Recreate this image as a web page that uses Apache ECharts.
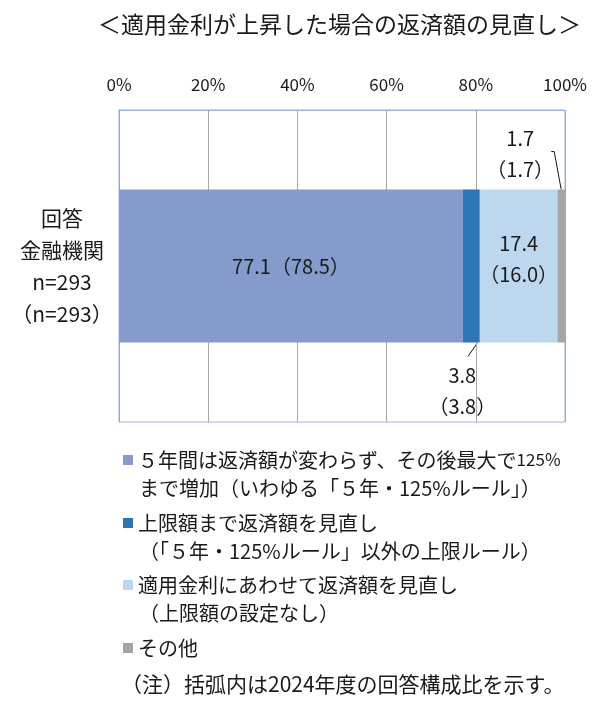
<!DOCTYPE html>
<html><head><meta charset="utf-8">
<script src="https://cdn.jsdelivr.net/npm/echarts@6/dist/echarts.min.js"></script>
<style>html,body{margin:0;padding:0;background:#fff}#c{width:600px;height:703px}</style>
</head><body><div id="c"></div>
<script>
const titleText = '＜適用金利が上昇した場合の返済額の見直し＞';
const categories = ['回答\n金融機関\nn=293\n（n=293）'];
const seriesNames = [
  '５年間は返済額が変わらず、その後最大で125%\nまで増加（いわゆる「５年・125%ルール」）',
  '上限額まで返済額を見直し\n（「５年・125%ルール」以外の上限ルール）',
  '適用金利にあわせて返済額を見直し\n（上限額の設定なし）',
  'その他'
];
const values2025 = [77.1, 3.8, 17.4, 1.7];
const values2024 = [78.5, 3.8, 16.0, 1.7];
const tickValues = [0, 20, 40, 60, 80, 100];
const note = '（注）括弧内は2024年度の回答構成比を示す。';

const colors = ['#849BCB', '#2E75B6', '#BDD7EE', '#A5A5A8'];
const FONT = '"Noto Sans CJK JP", "Noto Sans", sans-serif';
const chart = echarts.init(document.getElementById('c'), null, {renderer: 'canvas'});

const labelCfg = [
  {show: true, position: 'inside', fontSize: 20, color: '#1a1a1a', fontFamily: FONT,
   formatter: p => p.value + '（' + values2024[0].toFixed(1) + '）'},
  {show: true, position: 'bottom', distance: 17, offset: [-9, 0], fontSize: 20, lineHeight: 31, color: '#1a1a1a', fontFamily: FONT,
   formatter: p => p.value.toFixed(1) + '\n（' + values2024[1].toFixed(1) + '）'},
  {show: true, position: 'inside', offset: [0, -7], fontSize: 20, lineHeight: 31, color: '#1a1a1a', fontFamily: FONT,
   formatter: p => p.value.toFixed(1) + '\n（' + values2024[2].toFixed(1) + '）'},
  {show: true, position: 'top', distance: 5, offset: [-41, 0], fontSize: 20, lineHeight: 31, color: '#1a1a1a', fontFamily: FONT,
   formatter: p => p.value.toFixed(1) + '\n（' + values2024[3].toFixed(1) + '）'}
];

const series = seriesNames.map((n, i) => ({
  name: n, type: 'bar', stack: 'total', barWidth: '49%',
  itemStyle: {color: colors[i]},
  label: labelCfg[i],
  data: [values2025[i]]
}));

const legendTops = [460, 523, 585, 648];
const legends = seriesNames.map((n, i) => ({
  data: [n], left: 123, top: legendTops[i] - 12, padding: 0,
  icon: 'rect', itemWidth: 10, itemHeight: 10, selectedMode: false,
  formatter: name => {
    const first = name.split('\n')[0];
    return first.replace('125%', '{s|125%}');
  },
  textStyle: {fontSize: 20, lineHeight: 24, color: '#1a1a1a', fontFamily: FONT,
    rich: {s: {fontSize: 17, fontFamily: FONT, color: '#1a1a1a'}}}
}));

const secondLines = [];
seriesNames.forEach((n, i) => {
  const parts = n.split('\n');
  if (parts.length > 1) {
    secondLines.push({type: 'text', left: 139, top: legendTops[i] + 28 - 12,
      style: {text: parts[1], fontSize: 20, lineHeight: 24, fill: '#1a1a1a', fontFamily: FONT}});
  }
});
const noteGraphic = {type: 'text', left: 121, top: 674, style: {text: note, fontSize: 21, fill: '#1a1a1a', fontFamily: FONT}};

chart.setOption({
  animation: false,
  title: {text: titleText, left: 93, top: 8, textStyle: {fontSize: 23, fontWeight: 'normal', color: '#1a1a1a', fontFamily: FONT}},
  grid: {left: 119, right: 35, top: 110, bottom: 281, show: true, borderColor: '#9FB8D8', borderWidth: 1},
  xAxis: {type: 'value', position: 'top', min: tickValues[0], max: tickValues[tickValues.length - 1], interval: 20,
    axisLine: {show: true, lineStyle: {color: '#95B3D7'}}, axisTick: {show: false},
    axisLabel: {formatter: '{value}%', fontSize: 17, color: '#1a1a1a', margin: 17, fontFamily: FONT},
    splitLine: {show: true, lineStyle: {color: '#A6A6A6'}}},
  yAxis: {type: 'category', data: categories, inverse: true,
    axisLine: {show: true, lineStyle: {color: '#A6A6A6'}}, axisTick: {show: false},
    axisLabel: {align: 'center', margin: 57, fontSize: 21, lineHeight: 32, color: '#1a1a1a', fontFamily: FONT}},
  legend: legends,
  series: series,
  graphic: secondLines.concat([noteGraphic])
});

// leader lines computed from the library's own scale
function px(x, y) { return chart.convertToPixel({gridIndex: 0}, [x, y]); }
const cum1 = values2025[0];
const total = values2025.reduce((a, b) => a + b, 0);
const c0 = px(0, 0);
const bandH = 312 * 0.49 / 2;
const b2 = px(cum1 + values2025[1] / 2 + 1.5, 0);
const b4 = px(total - values2025[3] / 2, 0);
const extra = [
  {type: 'polyline', shape: {points: [[b2[0] - 1, c0[1] + bandH + 1], [b2[0] - 10, c0[1] + bandH + 14]]},
   style: {stroke: '#1a1a1a', lineWidth: 1, fill: null}},
  {type: 'polyline', shape: {points: [[b4[0] - 10, c0[1] - bandH - 38], [b4[0] - 7, c0[1] - bandH - 38], [b4[0], c0[1] - bandH]]},
   style: {stroke: '#1a1a1a', lineWidth: 1, fill: null}}
];
chart.setOption({graphic: secondLines.concat([noteGraphic]).concat(extra)});
</script></body></html>
